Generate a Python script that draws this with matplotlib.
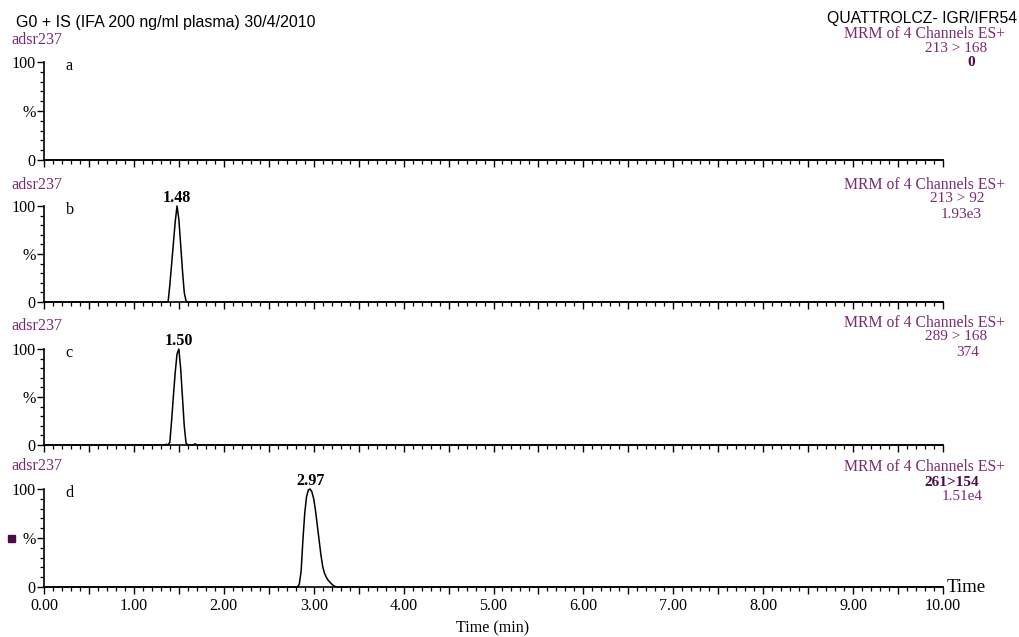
import matplotlib
matplotlib.use("Agg")
import matplotlib.pyplot as plt
from matplotlib.ticker import MultipleLocator, FixedLocator, NullFormatter

# ---------------- data ----------------
time_a = [0.0, 10.0]
int_a = [0, 0]

time_b = [0.0, 1.36, 1.38, 1.40, 1.42, 1.44, 1.46, 1.48, 1.50, 1.52, 1.54, 1.56, 1.58, 1.60, 10.0]
int_b = [0, 0, 0, 18, 40, 62, 84, 100, 86, 60, 33, 10, 1, 0, 0]

time_c = [0.0, 1.34, 1.36, 1.38, 1.40, 1.42, 1.44, 1.46, 1.48, 1.50, 1.52, 1.54, 1.56, 1.58, 1.60,
          1.66, 1.68, 1.70, 10.0]
int_c = [0, 0, 0.8, 0, 3, 26, 52, 76, 95, 100, 80, 50, 20, 2, 0, 0, 1.2, 0, 0]

time_d = [0.0, 2.82, 2.84, 2.86, 2.88, 2.90, 2.92, 2.94, 2.96, 2.98, 3.00, 3.02, 3.04, 3.06, 3.08,
          3.10, 3.12, 3.14, 3.16, 3.18, 3.20, 3.22, 3.24, 3.26, 10.0]
int_d = [0, 0, 3, 16, 48, 75, 92, 99, 100, 97, 90, 78, 63, 48, 33, 21, 14, 10, 7, 5, 3, 1.5, 0.5, 0, 0]

panel_letters = ["a", "b", "c", "d"]
peak_labels = [None, "1.48", "1.50", "2.97"]
peak_times = [None, 1.48, 1.50, 2.97]
transitions = ["213 > 168", "213 > 92", "289 > 168", "261>154"]
intensities = ["0", "1.93e3", "374", "1.51e4"]
xtick_labels = ["0.00", "1.00", "2.00", "3.00", "4.00", "5.00", "6.00", "7.00", "8.00", "9.00", "10.00"]

series = [(time_a, int_a), (time_b, int_b), (time_c, int_c), (time_d, int_d)]

# ---------------- layout ----------------
W, H = 1019, 637
fig = plt.figure(figsize=(W / 100, H / 100), dpi=100)
purple = "#7a2a72"
dpurple = "#4e0a46"
serif = ["Liberation Serif", "DejaVu Serif"]
sans = ["Liberation Sans", "DejaVu Sans"]

def fy(y):
    return 1 - y / H

def fx(x):
    return x / W

# pixel boxes (top, bottom) of each axes
boxes = [(62, 160), (206, 302), (349, 445), (489, 587)]
x_left, x_right = 44, 943

# header y positions per panel: adsr, MRM, transition, intensity
headers = [(40, 34, 48, 62), (185, 185, 199, 214), (326, 323, 337, 352), (466, 467, 482, 496)]
trans_right = [987, 985, 987, 979]
int_right = [975, 982, 979, 983]

fs = 11.6
hfs = 11.0
for i, (t, v) in enumerate(series):
    top, bot = boxes[i]
    ax = fig.add_axes([fx(x_left), fy(bot), fx(x_right - x_left), (bot - top) / H])
    ax.plot(t, v, color="black", lw=1.1, clip_on=False, zorder=3)
    ax.set_xlim(0, 10)
    ax.set_ylim(0, 100)
    for s in ["top", "right"]:
        ax.spines[s].set_visible(False)
    for s in ["left", "bottom"]:
        ax.spines[s].set_linewidth(1.2)
    ax.yaxis.set_major_locator(FixedLocator([0, 50, 100]))
    ax.yaxis.set_minor_locator(MultipleLocator(10))
    ax.set_yticklabels(["0", "%", "100"], fontfamily=serif, fontsize=fs)
    ax.xaxis.set_major_locator(MultipleLocator(0.5))
    ax.xaxis.set_minor_locator(MultipleLocator(0.1))
    if i == 3:
        labs = []
        for k in range(21):
            labs.append(xtick_labels[k // 2] if k % 2 == 0 else "")
        ax.set_xticks([k * 0.5 for k in range(21)])
        ax.set_xticklabels(labs, fontfamily=serif, fontsize=fs)
    else:
        ax.xaxis.set_major_formatter(NullFormatter())
    ax.tick_params(axis="both", which="major", length=5, width=1.0, direction="out", pad=1)
    ax.tick_params(axis="both", which="minor", length=3, width=0.9, direction="out")
    ax.tick_params(axis="x", which="major", pad=3)
    ax.text(0.24, 92, panel_letters[i], fontfamily=serif, fontsize=fs, va="baseline", ha="left")
    if peak_labels[i]:
        ax.text(peak_times[i], 104, peak_labels[i], fontfamily=serif, fontsize=fs,
                fontweight="bold", ha="center", va="baseline", clip_on=False)
    hy = headers[i]
    fig.text(fx(11), fy(hy[0]), "adsr237", color=purple, fontfamily=serif, fontsize=fs, va="center")
    fig.text(fx(1005), fy(hy[1]), "MRM of 4 Channels ES+", color=purple, fontfamily=serif,
             fontsize=11.3, va="center", ha="right")
    fig.text(fx(trans_right[i]), fy(hy[2]), transitions[i], color=dpurple if i == 3 else purple,
             fontfamily=serif, fontsize=hfs, va="center", ha="right",
             fontweight="bold" if i == 3 else "normal")
    fig.text(fx(int_right[i]), fy(hy[3]), intensities[i], color=dpurple if i == 0 else purple,
             fontfamily=serif, fontsize=hfs, va="center", ha="right",
             fontweight="bold" if i == 0 else "normal")
    if i == 3:
        ax.text(10.04, 0, "Time", fontfamily=serif, fontsize=13.5, ha="left", va="center", clip_on=False)

fig.text(fx(16), fy(22), "G0 + IS (IFA 200 ng/ml plasma) 30/4/2010", fontfamily=sans, fontsize=11.5,
         va="center", ha="left")
fig.text(fx(1017), fy(19), "QUATTROLCZ- IGR/IFR54", fontfamily=sans, fontsize=11.3,
         va="center", ha="right")
fig.text(fx(493), fy(628), "Time (min)", fontfamily=serif, fontsize=fs, va="center", ha="center")
fig.patches.append(plt.Rectangle((fx(8), fy(542)), fx(7), 7 / H, transform=fig.transFigure,
                                 color=dpurple, figure=fig))

fig.savefig("out.png", dpi=100)
